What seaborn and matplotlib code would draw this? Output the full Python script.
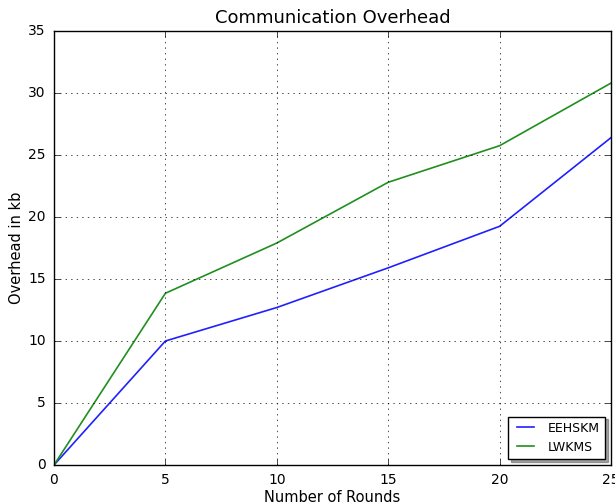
import matplotlib
matplotlib.use("Agg")
import matplotlib.pyplot as plt
import seaborn as sns
import pandas as pd

rounds = [0, 5, 10, 15, 20, 25]
eehskm = [0.0, 10.0, 12.7, 15.9, 19.25, 26.4]
lwkms = [0.0, 13.85, 17.9, 22.8, 25.75, 30.8]
series_names = ["EEHSKM", "LWKMS"]
x_ticks = [0, 5, 10, 15, 20, 25]
y_ticks = [0, 5, 10, 15, 20, 25, 30, 35]

df = pd.DataFrame({
    "Number of Rounds": rounds * 2,
    "Overhead in kb": eehskm + lwkms,
    "Scheme": [series_names[0]] * len(rounds) + [series_names[1]] * len(rounds),
})

plt.style.use("classic")
plt.rcParams["font.family"] = ["DejaVu Sans"]

fig = plt.figure(figsize=(6.15, 5.04), dpi=100, facecolor="white")
ax = fig.add_axes([54 / 615, 39 / 504, 557 / 615, 434 / 504])

sns.lineplot(data=df, x="Number of Rounds", y="Overhead in kb", hue="Scheme",
             palette=["#2020ff", "#1f8f1f"], linewidth=1.2, ax=ax, legend=True)

ax.set_xlim(0, 25)
ax.set_ylim(0, 35)
ax.set_xticks(x_ticks)
ax.set_yticks(y_ticks)
ax.tick_params(labelsize=10, pad=6)
ax.grid(True, color="black", linestyle=":", linewidth=0.5)
ax.set_title("Communication Overhead", fontsize=13, pad=6)
ax.set_xlabel("Number of Rounds", fontsize=10.5, labelpad=2)
ax.set_ylabel("Overhead in kb", fontsize=10.5, labelpad=3)

handles, labels = ax.get_legend_handles_labels()
leg = ax.legend(handles, labels, loc="lower right", fontsize=9, shadow=True,
                fancybox=False, frameon=True)
leg.get_frame().set_edgecolor("black")

fig.savefig("out.png", dpi=100, facecolor="white")
